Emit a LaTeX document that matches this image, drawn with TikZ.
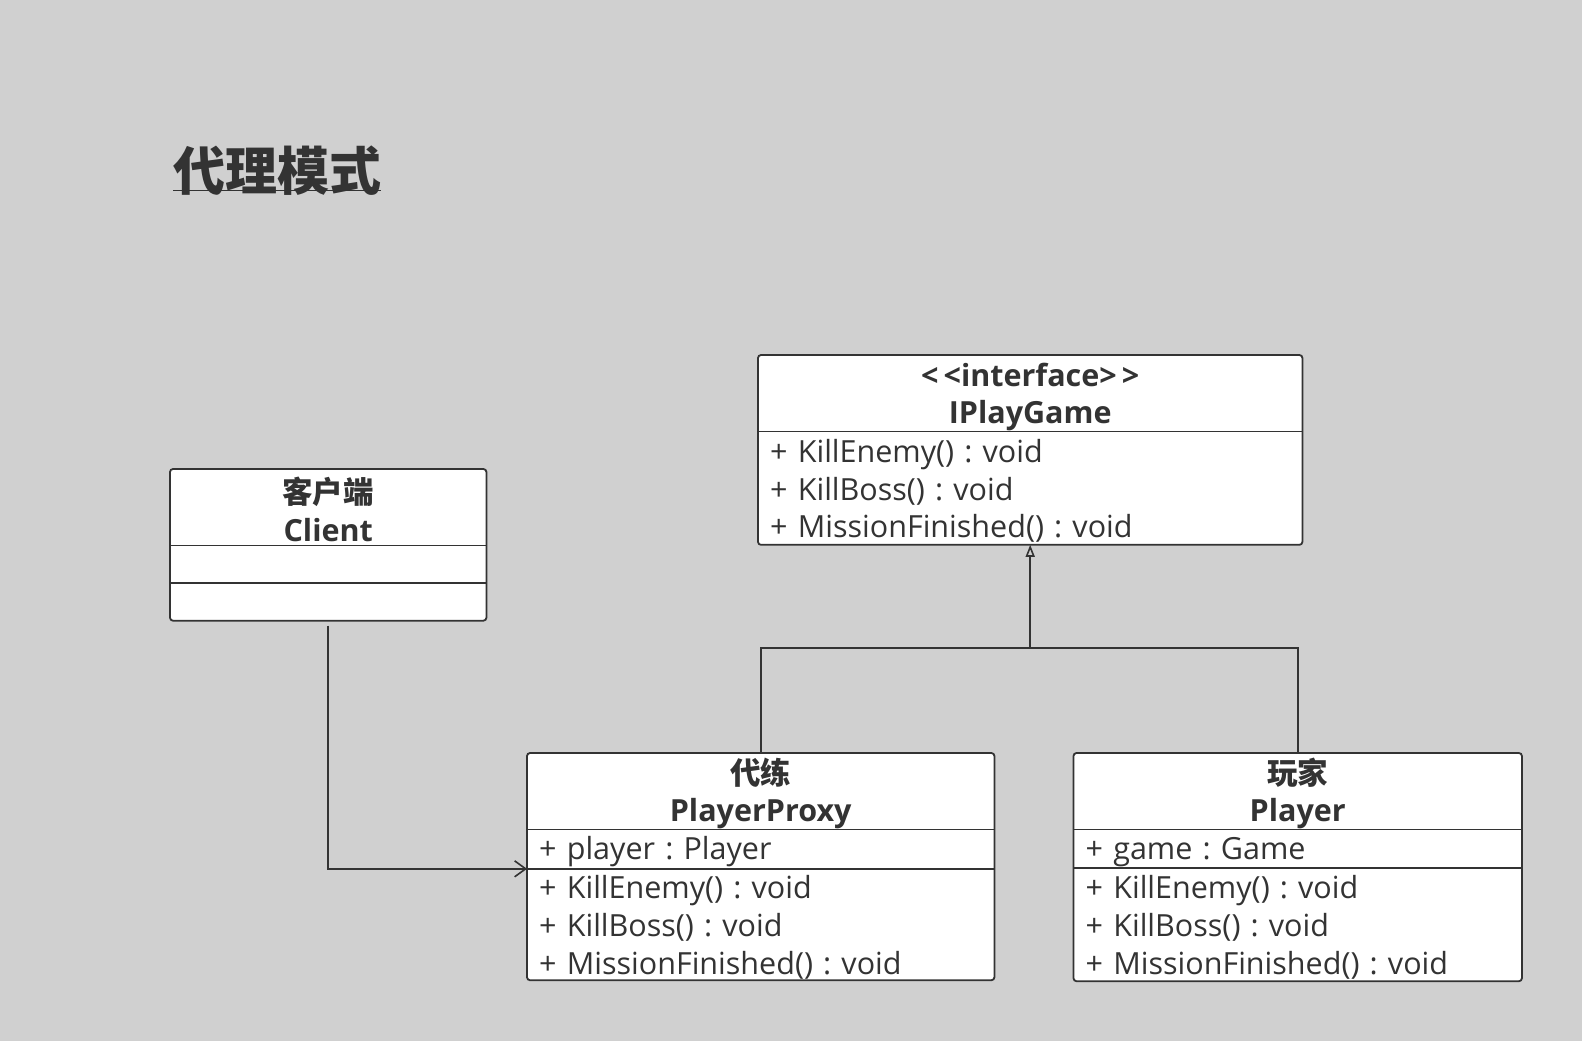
\documentclass[tikz,border=0pt]{standalone}
\usepackage{fontspec}
\setmainfont{Open Sans}
\newfontfamily\cjk{Noto Sans CJK SC}
\usetikzlibrary{arrows.meta, positioning}
\definecolor{Canvas}{RGB}{208,208,208}
\definecolor{Ink}{RGB}{51,51,51}
\frenchspacing
\newcommand\bodystrut{\rule{0pt}{29pt}}
\newcommand\headstrut{\rule{0pt}{31pt}}

\begin{document}
\begin{tikzpicture}[x=1pt, y=-1pt, node distance=0pt, text=Ink,
  font=\fontsize{30.5}{37.7}\selectfont,
  hd/.style={fill=white, anchor=north west, inner sep=0pt, align=center, font=\fontsize{30.5}{37.7}\selectfont\bfseries},
  sec/.style={fill=white, inner xsep=12pt, inner ysep=0pt, align=left},
  ln/.style={draw=Ink, line width=1.8pt},
  ar/.style={Ink, line width=1.6pt}]
\fill[Canvas] (0,0) rectangle (1582,1041);
\useasboundingbox (0,0) rectangle (1582,1041);

% title
\node[anchor=base west, inner sep=0pt, font=\cjk\fontsize{52}{60}\selectfont\bfseries] (title) at (173,190) {代理模式};
\draw[Ink, line width=1pt] (title.base west) -- (title.base east);

% Client
\node[hd, minimum width=316, minimum height=76] (chead) at (170,469) {\headstrut{\cjk 客户端}\\Client};
\node[sec, text width=292, minimum height=37, below=of chead] (cattr) {};
\node[sec, text width=292, minimum height=37.5, below=of cattr] (cops) {};
\draw[ln, rounded corners=3pt] (chead.north west) rectangle (cops.south east);
\draw[ln] (chead.south west) -- (chead.south east);
\draw[ln] (cattr.south west) -- (cattr.south east);

% IPlayGame
\node[hd, minimum width=544, minimum height=75] (ihead) at (758,355) {\headstrut<\,<interface>\,>\\IPlayGame};
\node[sec, text width=520, minimum height=113, below=of ihead] (iops) {\bodystrut+ KillEnemy() : void\\+ KillBoss() : void\\+ MissionFinished() : void};
\draw[ln, rounded corners=3pt] (ihead.north west) rectangle (iops.south east);
\draw[ln] (ihead.south west) -- (ihead.south east);

% PlayerProxy
\node[hd, minimum width=467, minimum height=76] (phead) at (527,753) {\headstrut{\cjk 代练}\\PlayerProxy};
\node[sec, text width=443, minimum height=39, below=of phead] (pattr) {\bodystrut+ player : Player};
\node[sec, text width=443, minimum height=111, below=of pattr] (pops) {\bodystrut+ KillEnemy() : void\\+ KillBoss() : void\\+ MissionFinished() : void};
\draw[ln, rounded corners=3pt] (phead.north west) rectangle (pops.south east);
\draw[ln] (phead.south west) -- (phead.south east);
\draw[ln] (pattr.south west) -- (pattr.south east);

% Player
\node[hd, minimum width=448, minimum height=75] (yhead) at (1073.5,753) {\headstrut{\cjk 玩家}\\Player};
\node[sec, text width=424, minimum height=38, below=of yhead] (yattr) {\bodystrut+ game : Game};
\node[sec, text width=424, minimum height=113, below=of yattr] (yops) {\bodystrut+ KillEnemy() : void\\+ KillBoss() : void\\+ MissionFinished() : void};
\draw[ln, rounded corners=3pt] (yhead.north west) rectangle (yops.south east);
\draw[ln] (yhead.south west) -- (yhead.south east);
\draw[ln] (yattr.south west) -- (yattr.south east);

% connectors
\coordinate (fork) at (iops.south |- 0,648);
\draw[ar, -{Triangle[open, length=12pt, width=9pt]}] (phead.north) |- (fork) -- (iops.south);
\draw[ar] (yhead.north) |- (fork);
\draw[ar, -{Straight Barb[length=11pt, width=16pt]}] ([yshift=-5pt]cops.south) |- (pattr.south west);
\end{tikzpicture}
\end{document}
